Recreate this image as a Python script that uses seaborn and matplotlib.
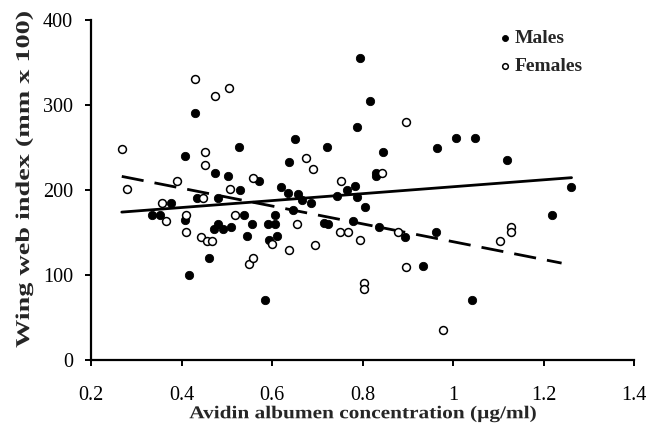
import matplotlib
matplotlib.use("Agg")
import matplotlib.pyplot as plt
import seaborn as sns
import pandas as pd
from matplotlib.patheffects import AbstractPathEffect
from matplotlib.transforms import Affine2D

male_x = [0.334, 0.352, 0.377, 0.408, 0.408, 0.416, 0.429, 0.435, 0.460, 0.472, 0.473, 0.481,
          0.481, 0.491, 0.502, 0.509, 0.526, 0.529, 0.539, 0.544, 0.556, 0.572, 0.585, 0.591,
          0.594, 0.607, 0.607, 0.612, 0.620, 0.635, 0.637, 0.646, 0.651, 0.657, 0.666, 0.686,
          0.716, 0.721, 0.723, 0.744, 0.765, 0.778, 0.784, 0.787, 0.788, 0.795, 0.806, 0.817,
          0.830, 0.830, 0.836, 0.845, 0.894, 0.934, 0.962, 0.965, 1.007, 1.042, 1.049, 1.119,
          1.219, 1.260]
male_y = [170, 170, 185, 240, 165, 100, 290, 191, 120, 154, 220, 160,
          191, 154, 216, 157, 250, 200, 170, 146, 160, 211, 71, 160,
          141, 170, 160, 146, 203, 196, 233, 177, 260, 195, 188, 185,
          161, 250, 160, 193, 200, 163, 205, 192, 274, 355, 180, 305,
          220, 216, 157, 245, 145, 111, 150, 249, 261, 71, 261, 235,
          170, 203]

female_x = [0.269, 0.280, 0.357, 0.366, 0.389, 0.409, 0.409, 0.430, 0.442, 0.447, 0.453, 0.453,
            0.456, 0.468, 0.475, 0.505, 0.508, 0.518, 0.550, 0.557, 0.558, 0.599, 0.637, 0.656,
            0.676, 0.691, 0.694, 0.750, 0.752, 0.768, 0.794, 0.803, 0.803, 0.842, 0.879, 0.897,
            0.897, 0.977, 1.103, 1.128, 1.128]
female_y = [248, 201, 185, 164, 210, 170, 151, 330, 145, 190, 245, 229,
            140, 140, 310, 320, 201, 171, 113, 214, 120, 136, 129, 160,
            238, 225, 135, 150, 210, 150, 141, 91, 84, 220, 150, 280,
            110, 35, 140, 156, 151]

male_trend_x = [0.268, 1.262]
male_trend_y = [174, 214.5]
female_trend_x = [0.268, 1.240]
female_trend_y = [216, 114]

x_ticks = [0.2, 0.4, 0.6, 0.8, 1.0, 1.2, 1.4]
x_tick_labels = ["0.2", "0.4", "0.6", "0.8", "1", "1.2", "1.4"]
y_ticks = [0, 100, 200, 300, 400]


class Stretch(AbstractPathEffect):
    """Scale the drawn glyph outlines about a display point (text stays a Text artist)."""
    def __init__(self, sx, sy, cx, cy):
        super().__init__()
        self.sx, self.sy, self.cx, self.cy = sx, sy, cx, cy

    def draw_path(self, renderer, gc, tpath, affine, rgbFace=None):
        t = affine + Affine2D().translate(-self.cx, -self.cy).scale(self.sx, self.sy).translate(self.cx, self.cy)
        renderer.draw_path(gc, tpath, t, rgbFace)


sns.set_style("white")
plt.rcParams['font.family'] = ['Liberation Serif', 'DejaVu Serif']

males = pd.DataFrame({"x": male_x, "y": male_y})
females = pd.DataFrame({"x": female_x, "y": female_y})
mt = pd.DataFrame({"x": male_trend_x, "y": male_trend_y})
ft = pd.DataFrame({"x": female_trend_x, "y": female_trend_y})

W, H = 660, 423
fig = plt.figure(figsize=(W / 100, H / 100), dpi=100)
ax = fig.add_axes([91 / W, 63 / H, 543 / W, 340 / H])

sns.lineplot(data=mt, x="x", y="y", ax=ax, color="black", lw=2.0, zorder=1)
sns.lineplot(data=ft, x="x", y="y", ax=ax, color="black", lw=2.0, zorder=1)
ax.lines[-1].set_dashes((8, 4))

sns.scatterplot(data=males, x="x", y="y", ax=ax, color="black", edgecolor="black",
                s=36, linewidth=0.6, label="Males", zorder=3)
sns.scatterplot(data=females, x="x", y="y", ax=ax, color="white", edgecolor="black",
                s=32, linewidth=1.1, label="Females", zorder=3)

ax.set_xlim(0.2, 1.4)
ax.set_ylim(0, 400)
ax.set_xticks(x_ticks)
ax.set_xticklabels(x_tick_labels)
ax.set_yticks(y_ticks)
for s in ["top", "right"]:
    ax.spines[s].set_visible(False)
for s in ["left", "bottom"]:
    ax.spines[s].set_color("black")
    ax.spines[s].set_linewidth(1.6)
ax.tick_params(axis="both", direction="out", length=4, width=1.4, colors="black",
               labelsize=14.5, bottom=True, left=True)
ax.tick_params(axis="x", pad=15)
ax.tick_params(axis="y", pad=9)

# x label: centred at x=362px, top near 405px from top
xl = ax.set_xlabel("Avidin albumen concentration (µg/ml)", fontsize=13, fontweight="bold")
ax.xaxis.set_label_coords(0.5, (18 - 63) / 340)
xl.set_path_effects([Stretch(1.18, 1.0, 91 + 543 / 2, 0)])

# y label: right edge ~33px, vertical centre ~179px from top
yl = ax.set_ylabel("Wing web index (mm x 100)", fontsize=14, fontweight="bold")
cy = H - 179
ax.yaxis.set_label_coords((33 - 91) / 543, (cy - 63) / 340)
yl.set_path_effects([Stretch(1.0, 1.45, 0, cy)])

leg = ax.legend(loc="upper left", bbox_to_anchor=((499 - 91) / 543, (H - 29 - 63) / 340),
                frameon=False, prop={"weight": "bold", "size": 14}, handletextpad=0.2,
                handlelength=0.6, markerscale=0.72, labelspacing=0.55, borderpad=0,
                borderaxespad=0)

fig.savefig("out.png", dpi=100, facecolor="white")
